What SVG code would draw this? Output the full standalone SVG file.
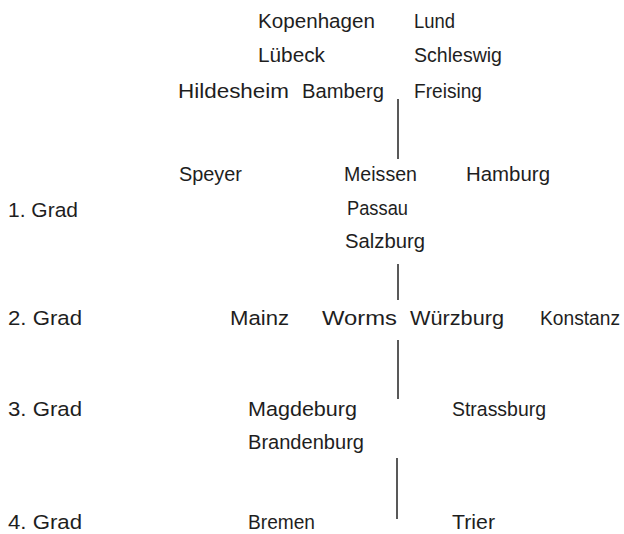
<svg xmlns="http://www.w3.org/2000/svg" width="624" height="534" viewBox="0 0 624 534">
<style>
text{font-family:"Liberation Sans","Open Sans",sans-serif;font-size:20.5px;fill:#1e1e1e}
.c{stroke:#222;stroke-width:1.5;fill:none}
</style>
<rect width="624" height="534" fill="#fff"/>
<g id="connectors">
<line class="c" x1="398" y1="99" x2="398" y2="159"/>
<line class="c" x1="398" y1="264" x2="398" y2="300"/>
<line class="c" x1="398" y1="340" x2="398" y2="399"/>
<line class="c" x1="397" y1="458" x2="397" y2="519"/>
</g>
<g id="grades">
<text x="8" y="217" textLength="70" lengthAdjust="spacingAndGlyphs">1. Grad</text>
<text x="8" y="325" textLength="74" lengthAdjust="spacingAndGlyphs">2. Grad</text>
<text x="8" y="416" textLength="74" lengthAdjust="spacingAndGlyphs">3. Grad</text>
<text x="8" y="529" textLength="74" lengthAdjust="spacingAndGlyphs">4. Grad</text>
</g>
<g id="n-kopenhagen"><text x="258" y="28" textLength="117" lengthAdjust="spacingAndGlyphs">Kopenhagen</text></g>
<g id="n-lund"><text x="414" y="28" textLength="41" lengthAdjust="spacingAndGlyphs">Lund</text></g>
<g id="n-luebeck"><text x="258" y="62" textLength="67" lengthAdjust="spacingAndGlyphs">Lübeck</text></g>
<g id="n-schleswig"><text x="414" y="62" textLength="88" lengthAdjust="spacingAndGlyphs">Schleswig</text></g>
<g id="n-hildesheim"><text x="178" y="98" textLength="111" lengthAdjust="spacingAndGlyphs">Hildesheim</text></g>
<g id="n-bamberg"><text x="302" y="98" textLength="82" lengthAdjust="spacingAndGlyphs">Bamberg</text></g>
<g id="n-freising"><text x="414" y="98" textLength="68" lengthAdjust="spacingAndGlyphs">Freising</text></g>
<g id="n-speyer"><text x="179" y="181" textLength="63" lengthAdjust="spacingAndGlyphs">Speyer</text></g>
<g id="n-meissen"><text x="344" y="181" textLength="73" lengthAdjust="spacingAndGlyphs">Meissen</text></g>
<g id="n-hamburg"><text x="466" y="181" textLength="84" lengthAdjust="spacingAndGlyphs">Hamburg</text></g>
<g id="n-passau"><text x="347" y="215" textLength="61" lengthAdjust="spacingAndGlyphs">Passau</text></g>
<g id="n-salzburg"><text x="345" y="248" textLength="80" lengthAdjust="spacingAndGlyphs">Salzburg</text></g>
<g id="n-mainz"><text x="230" y="325" textLength="59" lengthAdjust="spacingAndGlyphs">Mainz</text></g>
<g id="n-worms"><text x="322" y="325" textLength="75" lengthAdjust="spacingAndGlyphs">Worms</text></g>
<g id="n-wuerzburg"><text x="410" y="325" textLength="94" lengthAdjust="spacingAndGlyphs">Würzburg</text></g>
<g id="n-konstanz"><text x="540" y="325" textLength="80" lengthAdjust="spacingAndGlyphs">Konstanz</text></g>
<g id="n-magdeburg"><text x="248" y="416" textLength="109" lengthAdjust="spacingAndGlyphs">Magdeburg</text></g>
<g id="n-strassburg"><text x="452" y="416" textLength="94" lengthAdjust="spacingAndGlyphs">Strassburg</text></g>
<g id="n-brandenburg"><text x="248" y="449" textLength="116" lengthAdjust="spacingAndGlyphs">Brandenburg</text></g>
<g id="n-bremen"><text x="248" y="529" textLength="67" lengthAdjust="spacingAndGlyphs">Bremen</text></g>
<g id="n-trier"><text x="452" y="529" textLength="43" lengthAdjust="spacingAndGlyphs">Trier</text></g>
</svg>
